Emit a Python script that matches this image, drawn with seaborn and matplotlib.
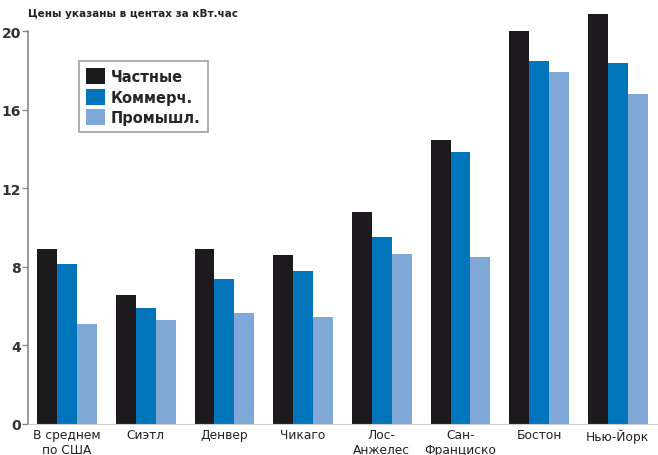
import numpy as np
import pandas as pd
import matplotlib
matplotlib.use("Agg")
import matplotlib.pyplot as plt
import seaborn as sns

# ------- DATA ---------
cities = ["В среднем\nпо США", "Сиэтл", "Денвер", "Чикаго", "Лос-\nАнжелес",
          "Сан-\nФранциско", "Бостон", "Нью-Йорк"]
sectors = ["Частные", "Коммерч.", "Промышл."]
private = [8.9, 6.55, 8.9, 8.6, 10.8, 14.45, 20.0, 20.85]
commercial = [8.15, 5.9, 7.4, 7.8, 9.5, 13.85, 18.45, 18.35]
industrial = [5.1, 5.3, 5.65, 5.45, 8.65, 8.5, 17.9, 16.8]
y_ticks = [0, 4, 8, 12, 16, 20]

colors = ["#1c1a1d", "#0075ba", "#7fa8d6"]

df = pd.DataFrame({
    "city": cities * 3,
    "sector": np.repeat(sectors, len(cities)),
    "price": private + commercial + industrial,
})

# ------- PLOT ---------
sns.set_style("white")
plt.rcParams["font.family"] = ["DejaVu Sans"]

fig = plt.figure(figsize=(6.58, 4.56), dpi=100)
ax = fig.add_axes([28 / 658, 31 / 456, 630 / 658, 418.5 / 456])

sns.barplot(data=df, x="city", y="price", hue="sector", palette=colors,
            width=0.76, saturation=1, ax=ax, order=cities, hue_order=sectors,
            linewidth=0, edgecolor="none")

ax.set_xlim(-0.496, 7.51)
ax.set_ylim(0, 21.3)
ax.set_yticks(y_ticks)
ax.set_yticklabels([str(t) for t in y_ticks], fontsize=10, fontweight="bold",
                   color="#333333")
ax.tick_params(axis="y", length=4, width=1, color="#888888", pad=1, left=True)
ax.tick_params(axis="x", length=0, pad=3, labelsize=8.8, labelcolor="#222222")
ax.set_xlabel("")
ax.set_ylabel("")

for side in ["top", "right"]:
    ax.spines[side].set_visible(False)
ax.spines["left"].set_color("#888888")
ax.spines["left"].set_linewidth(1.2)
ax.spines["left"].set_bounds(0, 20)
ax.spines["bottom"].set_color("#cccccc")
ax.spines["bottom"].set_linewidth(0.8)

leg = ax.legend(loc="upper left", bbox_to_anchor=(0.081, 0.867), borderaxespad=0,
                frameon=True, fancybox=False, handlelength=1.3, handleheight=1.3,
                handletextpad=0.4, labelspacing=0.3, borderpad=0.5,
                prop={"size": 10.5, "weight": "bold"})
leg.get_frame().set_edgecolor("#888888")
leg.get_frame().set_linewidth(1.2)

fig.text(28 / 658, 1 - 14 / 456, "Цены указаны в центах за кВт.час",
         fontsize=7.5, fontweight="bold", color="#222222", va="center")

fig.savefig("out.png", dpi=100)
